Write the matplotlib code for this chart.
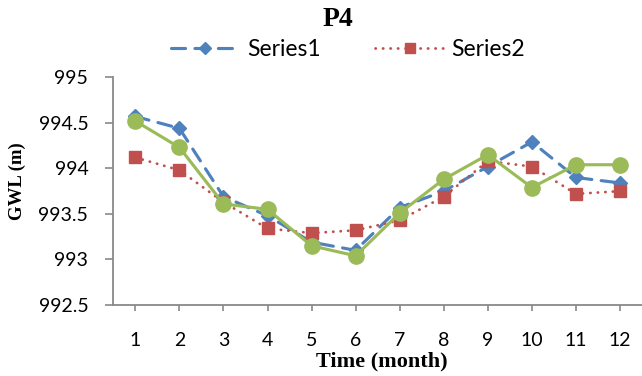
import matplotlib
matplotlib.use('Agg')
import matplotlib.pyplot as plt
from matplotlib.ticker import FuncFormatter

# data
months = [1, 2, 3, 4, 5, 6, 7, 8, 9, 10, 11, 12]
series1 = [994.57, 994.44, 993.69, 993.48, 993.19, 993.10, 993.57, 993.75, 994.02, 994.29, 993.90, 993.84]
series2 = [994.12, 993.98, 993.63, 993.34, 993.29, 993.32, 993.43, 993.69, 994.08, 994.02, 993.72, 993.75]
series3 = [994.52, 994.23, 993.61, 993.55, 993.15, 993.04, 993.51, 993.88, 994.15, 993.79, 994.04, 994.04]
y_ticks = [992.5, 993, 993.5, 994, 994.5, 995]

blue = '#4F81BD'
red = '#C0504D'
green = '#9BBB59'
grey = '#898989'
tick_font = 'Lato'

fig = plt.figure(figsize=(6.42, 3.76), dpi=100)
ax = fig.add_axes([113.3/642, 71/376, (642-113.3)/642, 227.7/376])

l1, = ax.plot(months, series1, color=blue, lw=2.25, linestyle=(0, (4.5, 3)),
              dash_capstyle='round', marker='D', ms=7.5, mfc=blue, mec=blue,
              label='Series1', zorder=3)
l2, = ax.plot(months, series2, color=red, lw=2.0, linestyle=(0, (0.1, 2.6)),
              dash_capstyle='round', marker='s', ms=8.5, mfc=red, mec=red,
              label='Series2', zorder=4)
ax.plot(months, series3, color=green, lw=2.25, marker='o', ms=11,
        mfc=green, mec=green, label='Series3', zorder=5)

ax.set_xlim(0.5, 12.5)
ax.set_ylim(992.5, 995)
ax.set_xticks(months)
ax.set_yticks(y_ticks)
ax.yaxis.set_major_formatter(FuncFormatter(lambda v, p: '%g' % v))

for s in ['top', 'right']:
    ax.spines[s].set_visible(False)
for s in ['left', 'bottom']:
    ax.spines[s].set_color(grey)
    ax.spines[s].set_linewidth(1.3)

ax.tick_params(axis='y', direction='out', length=6, width=1.2, color=grey, pad=12)
ax.tick_params(axis='x', direction='out', length=4.5, width=1.2, color=grey, pad=15)
for lab in ax.get_xticklabels() + ax.get_yticklabels():
    lab.set_fontfamily(tick_font)
    lab.set_fontsize(14)
    lab.set_color('black')

# legend (Series3 has no entry)
leg = fig.legend(handles=[l1, l2], loc='center', bbox_to_anchor=(348/642, 1-50/376),
                 ncol=2, frameon=False, handlelength=2.97, handletextpad=0.35,
                 columnspacing=2.4, markerscale=0.85,
                 prop={'family': tick_font, 'size': 16.5})

fig.text(338/642, 1-19/376, 'P4', ha='center', va='center',
         family='Liberation Serif', fontweight='bold', fontsize=20)
fig.text(382/642, 1-366.7/376, 'Time (month)', ha='center', va='baseline',
         family='Liberation Serif', fontweight='bold', fontsize=16)
fig.text(17/642, 1-181/376, 'GWL (m)', ha='center', va='center', rotation=90,
         family='Liberation Serif', fontweight='bold', fontsize=13.5)

fig.savefig('out.png', dpi=100)
